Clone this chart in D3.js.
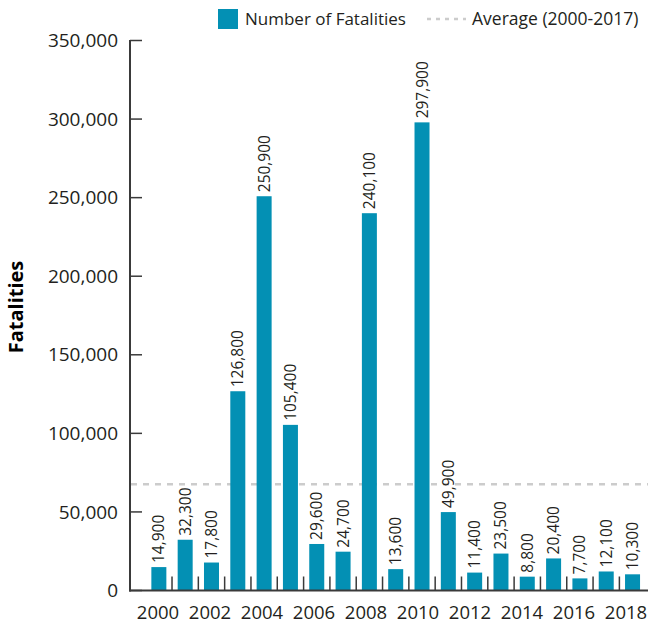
<!DOCTYPE html>
<html><head><meta charset="utf-8">
<script src="https://cdn.jsdelivr.net/npm/d3@7"></script>
<style>body{margin:0;background:#fff}svg{display:block;font-family:"Open Sans",sans-serif}</style>
</head><body><svg id="c" width="648" height="623"></svg>
<script>
const years = [2000,2001,2002,2003,2004,2005,2006,2007,2008,2009,2010,2011,2012,2013,2014,2015,2016,2017,2018];
const fatalities = [14900,32300,17800,126800,250900,105400,29600,24700,240100,13600,297900,49900,11400,23500,8800,20400,7700,12100,10300];
const averageValue = 67600;
const yTicks = [0,50000,100000,150000,200000,250000,300000,350000];
const xLabelYears = [2000,2002,2004,2006,2008,2010,2012,2014,2016,2018];
const seriesName = "Number of Fatalities";
const avgName = "Average (2000-2017)";
const yTitle = "Fatalities";

const barColor = "#0390b4", axisColor = "#3a3a3a", textColor = "#231f20", avgColor = "#cccccc";
const svg = d3.select("#c");
const x = d3.scaleBand().domain(years).range([145.7, 645.7]).paddingInner(0.43).paddingOuter(0.215);
const xLab = d3.scalePoint().domain(xLabelYears).range([158, 626]);
const y = d3.scaleLinear().domain([0, 350000]).range([590.5, 40.5]);
const fmt = d3.format(",");

// average line
svg.append("line").attr("x1", 131).attr("x2", 648).attr("y1", y(averageValue)).attr("y2", y(averageValue))
  .attr("stroke", avgColor).attr("stroke-width", 2.5).attr("stroke-dasharray", "6,6");

// bars
svg.selectAll("rect.bar").data(years).join("rect").attr("class","bar")
  .attr("x", d => x(d)).attr("width", x.bandwidth())
  .attr("y", (d,i) => y(fatalities[i])).attr("height", (d,i) => y(0) - y(fatalities[i]))
  .attr("fill", barColor);

// bar labels
svg.selectAll("text.val").data(years).join("text").attr("class","val")
  .attr("transform", (d,i) => `translate(${x(d) + x.bandwidth()/2 + 5.5},${y(fatalities[i]) - 4}) rotate(-90)`)
  .attr("font-size", 15.5).attr("fill", textColor).text((d,i) => fmt(fatalities[i]));

// y axis
const yAxis = svg.append("g");
yAxis.append("line").attr("x1",130).attr("x2",130).attr("y1",y(350000)-0.5).attr("y2",y(0)+1).attr("stroke",axisColor).attr("stroke-width",2);
yAxis.selectAll("line.t").data(yTicks).join("line").attr("class","t")
  .attr("x1",130).attr("x2",142).attr("y1",d=>y(d)).attr("y2",d=>y(d)).attr("stroke",axisColor).attr("stroke-width",1.5);
yAxis.selectAll("text").data(yTicks).join("text")
  .attr("x",118).attr("y",d=>y(d)).attr("dy","0.35em").attr("text-anchor","end")
  .attr("font-size",19).attr("fill",textColor).text(d=>fmt(d));

// x axis
const xAxis = svg.append("g");
xAxis.append("line").attr("x1",129).attr("x2",648).attr("y1",y(0)).attr("y2",y(0)).attr("stroke",axisColor).attr("stroke-width",2);
const step = x.step();
xAxis.selectAll("line.t").data(years.slice(1)).join("line").attr("class","t")
  .attr("x1",d=>x(d)-(step - x.bandwidth())/2).attr("x2",d=>x(d)-(step - x.bandwidth())/2)
  .attr("y1",y(0)).attr("y2",y(0)-14).attr("stroke",axisColor).attr("stroke-width",1.5);
xAxis.selectAll("text").data(xLabelYears).join("text")
  .attr("x",d=>xLab(d)).attr("y",618.5).attr("text-anchor","middle")
  .attr("font-size",18.5).attr("fill",textColor).text(d=>d);

// y title
svg.append("text").attr("transform","translate(23,307) rotate(-90)").attr("text-anchor","middle")
  .attr("font-size",20).attr("font-weight","bold").attr("fill","#000").text(yTitle);

// legend
svg.append("rect").attr("x",218).attr("y",9).attr("width",20).attr("height",20).attr("fill",barColor);
svg.append("text").attr("x",245).attr("y",25).attr("font-size",17).attr("fill",textColor).text(seriesName);
svg.append("line").attr("x1",427).attr("x2",466).attr("y1",19).attr("y2",19).attr("stroke",avgColor).attr("stroke-width",2.5).attr("stroke-dasharray","4,5");
svg.append("text").attr("x",472).attr("y",25).attr("font-size",17.5).attr("fill",textColor).text(avgName);
</script></body></html>
